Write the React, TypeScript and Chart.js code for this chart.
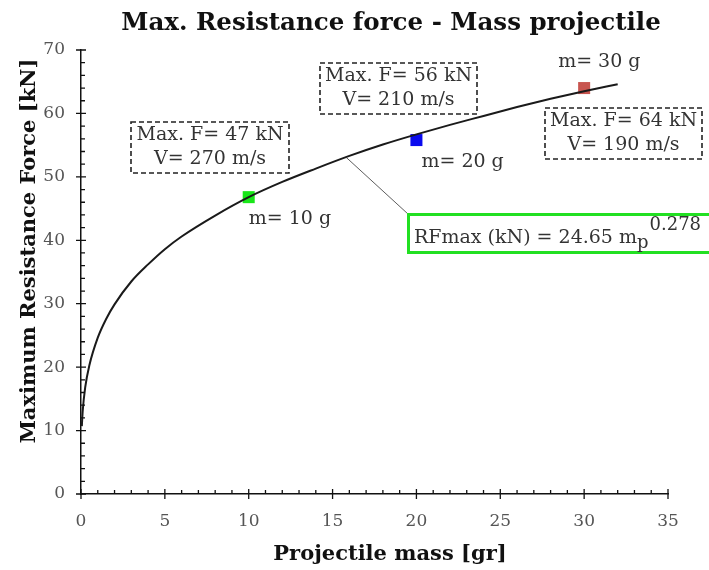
import React, { useEffect, useRef } from "react";
import { Chart, registerables } from "chart.js";

Chart.register(...registerables);

// Fitted curve RFmax = 24.65 mp^0.278
const curveMass = [0.05, 0.1, 0.25, 0.5, 1, 1.5, 2, 3, 4, 5, 6, 8, 10, 12, 14, 16, 18, 20, 22, 24, 26, 28, 30, 32];
const curveForce = [10.7, 13.0, 16.8, 20.3, 24.65, 27.6, 29.9, 33.5, 36.2, 38.6, 40.6, 43.9, 46.8, 49.2, 51.3, 53.3, 55.1, 56.7, 58.2, 59.6, 61.0, 62.3, 63.5, 64.6];

// Measured points
const pointMass = [10, 20, 30];
const pointForce = [46.8, 55.8, 64];
const pointColors = ["#19e619", "#0a0aee", "#c8554f"];
const massLabels = ["m= 10 g", "m= 20 g", "m= 30 g"];
const boxLine1 = ["Max. F= 47 kN", "Max. F= 56 kN", "Max. F= 64 kN"];
const boxLine2 = ["V= 270 m/s", "V= 210 m/s", "V= 190 m/s"];

const titleText = "Max. Resistance force - Mass projectile";
const xTitle = "Projectile mass [gr]";
const yTitle = "Maximum Resistance Force [kN]";
const fitLabel = "RFmax (kN) = 24.65 m";
const fitSub = "p";
const fitSup = "0.278";

const SERIF = "'DejaVu Serif', 'Liberation Serif', serif";

const decorPlugin = {
  id: "decor",
  afterDraw(chart: any) {
    const ctx = chart.ctx as CanvasRenderingContext2D;
    const xs = chart.scales.x;
    const ys = chart.scales.y;
    const area = chart.chartArea;
    ctx.save();

    // Title
    ctx.fillStyle = "#111";
    ctx.font = `bold 24.5px ${SERIF}`;
    ctx.textAlign = "center";
    ctx.textBaseline = "alphabetic";
    ctx.fillText(titleText, 391, 30);

    // Axis titles
    ctx.font = `bold 21px ${SERIF}`;
    ctx.fillText(xTitle, 390, 560);
    ctx.save();
    ctx.translate(35, 251);
    ctx.rotate(-Math.PI / 2);
    ctx.fillText(yTitle, 0, 0);
    ctx.restore();

    // Axis ticks
    ctx.strokeStyle = "#111";
    ctx.lineWidth = 1.3;
    ctx.beginPath();
    for (let v = 0; v <= 35; v += 1) {
      const px = xs.getPixelForValue(v);
      const major = v % 5 === 0;
      ctx.moveTo(px, area.bottom + (major ? 5 : 0));
      ctx.lineTo(px, area.bottom - (major ? 5 : 4));
    }
    for (let v = 0; v <= 70; v += 2) {
      const py = ys.getPixelForValue(v);
      const major = v % 10 === 0;
      ctx.moveTo(area.left - (major ? 5 : 0), py);
      ctx.lineTo(area.left + (major ? 5 : 4), py);
    }
    ctx.stroke();

    // Mass labels
    ctx.font = `19px ${SERIF}`;
    ctx.fillStyle = "#333";
    ctx.textAlign = "left";
    ctx.textBaseline = "middle";
    const labelOffsets = [[0, 22], [5, 22], [-26, -26]];
    pointMass.forEach((m, i) => {
      const px = xs.getPixelForValue(m);
      const py = ys.getPixelForValue(pointForce[i]);
      ctx.fillText(massLabels[i], px + labelOffsets[i][0], py + labelOffsets[i][1]);
    });

    // Dashed boxes
    const boxes = [
      [131, 122, 158, 51],
      [320, 63, 157, 51],
      [545, 108, 157, 51],
    ];
    boxes.forEach((b, i) => {
      ctx.setLineDash([5, 3]);
      ctx.lineWidth = 1.6;
      ctx.strokeStyle = "#222";
      ctx.strokeRect(b[0], b[1], b[2], b[3]);
      ctx.setLineDash([]);
      ctx.textAlign = "center";
      ctx.fillStyle = "#333";
      ctx.fillText(boxLine1[i], b[0] + b[2] / 2, b[1] + 13);
      ctx.fillText(boxLine2[i], b[0] + b[2] / 2, b[1] + 37);
    });

    // Leader line
    ctx.strokeStyle = "#333";
    ctx.lineWidth = 0.8;
    ctx.beginPath();
    ctx.moveTo(xs.getPixelForValue(15.8), ys.getPixelForValue(53.1));
    ctx.lineTo(408, 214);
    ctx.stroke();

    // Fit box
    ctx.strokeStyle = "#22e022";
    ctx.lineWidth = 3;
    ctx.strokeRect(408.5, 214.5, 302, 38);
    ctx.fillStyle = "#333";
    ctx.textAlign = "left";
    ctx.textBaseline = "alphabetic";
    ctx.font = `19px ${SERIF}`;
    ctx.fillText(fitLabel, 414, 243);
    const w = ctx.measureText(fitLabel).width;
    ctx.font = `18px ${SERIF}`;
    ctx.fillText(fitSub, 414 + w, 248);
    const w2 = ctx.measureText(fitSub).width;
    ctx.fillText(fitSup, 414 + w + w2 + 1, 230);

    ctx.restore();
  },
};

export default function App() {
  const ref = useRef<HTMLCanvasElement | null>(null);
  useEffect(() => {
    document.body.style.margin = "0";
    const canvas = ref.current!;
    const chart = new Chart(canvas, {
      type: "scatter",
      data: {
        datasets: [
          {
            data: curveMass.map((m, i) => ({ x: m, y: curveForce[i] })),
            showLine: true,
            borderColor: "#1a1a1a",
            borderWidth: 2,
            pointRadius: 0,
            cubicInterpolationMode: "monotone",
          },
          {
            data: pointMass.map((m, i) => ({ x: m, y: pointForce[i] })),
            pointStyle: "rect",
            pointRadius: 8.5,
            backgroundColor: pointColors,
            borderColor: pointColors,
            borderWidth: 0,
          },
        ],
      },
      options: {
        animation: false,
        responsive: false,
        devicePixelRatio: 1,
        layout: { padding: { top: 50, right: 41, left: 0, bottom: 0 } },
        plugins: { legend: { display: false }, tooltip: { enabled: false }, title: { display: false } },
        scales: {
          x: {
            type: "linear",
            min: 0,
            max: 35,
            afterFit: (s: any) => { s.height = 76; },
            ticks: { stepSize: 5, color: "#555", font: { family: SERIF, size: 17 }, padding: 17 },
            grid: { display: false, drawTicks: false },
            border: { display: true, color: "#111", width: 1.5 },
            title: { display: false },
          },
          y: {
            type: "linear",
            min: 0,
            max: 70,
            afterFit: (s: any) => { s.width = 81; },
            ticks: { stepSize: 10, color: "#555", font: { family: SERIF, size: 17 }, padding: 16 },
            grid: { display: false, drawTicks: false },
            border: { display: true, color: "#111", width: 1.5 },
            title: { display: false },
          },
        },
      },
      plugins: [decorPlugin],
    } as any);
    return () => chart.destroy();
  }, []);
  return <canvas ref={ref} width={709} height={570} style={{ display: "block" }} />;
}
